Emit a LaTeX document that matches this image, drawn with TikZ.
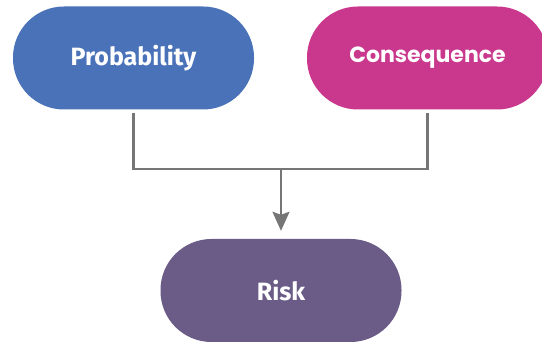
\documentclass[tikz,border=0pt]{standalone}
\usepackage{fontspec}
\setmainfont{Fira Sans}
\newfontfamily\headfont{Poppins}
\usetikzlibrary{arrows.meta}
\definecolor{probblue}{HTML}{4A72B8}
\definecolor{consmagenta}{HTML}{C9388D}
\definecolor{riskpurple}{HTML}{6A5C86}
\definecolor{linkgray}{HTML}{767676}
\begin{document}
\begin{tikzpicture}[x=1pt,y=1pt,
  pill/.style={rectangle, rounded corners=51pt, minimum width=241pt,
    minimum height=103pt, inner sep=0pt, text=white, font=\bfseries\fontsize{25}{30}\selectfont},
  link/.style={draw=linkgray, line width=2.2pt}]
  \useasboundingbox (0,0) rectangle (542,343);
  \clip (0,0) rectangle (542,343);
  \fill[white] (0,0) rectangle (542,343);
  % factor boxes
  \node[pill, fill=probblue] (prob) at (133.5,285) {Probability};
  \node[pill, fill=consmagenta, font=\headfont\bfseries\fontsize{22}{26}\selectfont] (cons) at (427.5,285) {Consequence};
  % outcome box
  \node[pill, fill=riskpurple] (risk) at (281,52.5) {Risk};
  % merging connector
  \coordinate (join) at (281,174);
  \draw[link, shorten <=3pt] (prob.south) |- (join);
  \draw[link, shorten <=3pt] (cons.south) |- (join);
  \draw[link, -{Stealth[width=17pt,length=19pt,inset=3pt]}, shorten >=8pt] (join) -- (risk.north);
\end{tikzpicture}
\end{document}
